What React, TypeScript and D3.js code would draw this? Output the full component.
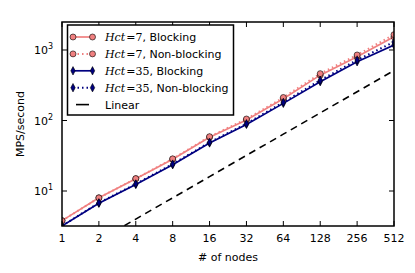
import * as d3 from "d3";
import { useEffect, useRef } from "react";

const nodes = [1, 2, 4, 8, 16, 32, 64, 128, 256, 512];
const hct7Blocking = [3.8, 8.0, 14.9, 28.2, 58, 102, 204, 440, 800, 1540];
const hct7NonBlocking = [3.8, 8.0, 15.0, 28.6, 59, 105, 212, 462, 850, 1650];
const hct35Blocking = [3.2, 6.7, 12.4, 23.6, 48, 88, 175, 355, 680, 1175];
const hct35NonBlocking = [3.2, 6.8, 12.6, 24.1, 49, 90, 181, 372, 722, 1300];
const linear = [1, 2, 4, 8, 16, 32, 64, 128, 256, 512];
const yTicks = [1, 2, 3];

const PINK = "#f08080";
const NAVY = "#000080";

const series = [
  { hct: "7", mode: "Blocking", values: hct7Blocking, color: PINK, dash: null, marker: "o" },
  { hct: "7", mode: "Non-blocking", values: hct7NonBlocking, color: PINK, dash: "1.5,3", marker: "o" },
  { hct: "35", mode: "Blocking", values: hct35Blocking, color: NAVY, dash: null, marker: "d" },
  { hct: "35", mode: "Non-blocking", values: hct35NonBlocking, color: NAVY, dash: "1.5,3", marker: "d" },
];

export default function App() {
  const ref = useRef<SVGSVGElement>(null);
  const width = 415;
  const height = 273;
  const m = { left: 62, right: 394, top: 22, bottom: 226 };

  useEffect(() => {
    const svg = d3.select(ref.current);
    svg.selectAll("*").remove();
    const font = "'DejaVu Sans', sans-serif";

    const x = d3.scaleLog().base(2).domain([1, 512]).range([m.left, m.right]);
    const y = d3.scaleLog().domain([3.19, 2495]).range([m.bottom, m.top]);

    svg.append("defs").append("clipPath").attr("id", "plot")
      .append("rect").attr("x", m.left).attr("y", m.top)
      .attr("width", m.right - m.left).attr("height", m.bottom - m.top);

    const g = svg.append("g").attr("clip-path", "url(#plot)");
    const line = d3.line<number>().x((_, i) => x(nodes[i])).y((d) => y(d));

    // linear reference
    g.append("path").datum(linear).attr("d", line).attr("fill", "none")
      .attr("stroke", "black").attr("stroke-width", 1.6).attr("stroke-dasharray", "7,5");

    const drawMarker = (sel: any, kind: string, color: string) => {
      if (kind === "o") {
        sel.append("circle").attr("r", 3).attr("fill", color)
          .attr("stroke", "black").attr("stroke-width", 0.6);
      } else {
        sel.append("path").attr("d", "M0,-4.2L2.2,0L0,4.2L-2.2,0Z").attr("fill", color)
          .attr("stroke", "black").attr("stroke-width", 0.6);
      }
    };

    series.forEach((s) => {
      g.append("path").datum(s.values).attr("d", line).attr("fill", "none")
        .attr("stroke", s.color).attr("stroke-width", s.dash ? 2 : 1.7)
        .attr("stroke-dasharray", s.dash);
    });
    series.forEach((s) => {
      s.values.forEach((v, i) => {
        const mk = g.append("g").attr("transform", `translate(${x(nodes[i])},${y(v)})`);
        drawMarker(mk, s.marker, s.color);
      });
    });

    // ticks inward
    const ax = svg.append("g").attr("stroke", "black").attr("stroke-width", 1);
    nodes.forEach((n) => {
      ax.append("line").attr("x1", x(n)).attr("x2", x(n)).attr("y1", m.bottom).attr("y2", m.bottom - 5);
      ax.append("line").attr("x1", x(n)).attr("x2", x(n)).attr("y1", m.top).attr("y2", m.top + 5);
      svg.append("text").attr("x", x(n)).attr("y", m.bottom + 16).attr("text-anchor", "middle")
        .attr("font-family", font).attr("font-size", 11).text(n);
    });
    yTicks.forEach((e) => {
      const yy = y(Math.pow(10, e));
      ax.append("line").attr("x1", m.left).attr("x2", m.left + 5).attr("y1", yy).attr("y2", yy);
      ax.append("line").attr("x1", m.right).attr("x2", m.right - 5).attr("y1", yy).attr("y2", yy);
      const t = svg.append("text").attr("x", 53).attr("y", yy + 4).attr("text-anchor", "end")
        .attr("font-family", font).attr("font-size", 11);
      t.append("tspan").text("10");
      t.append("tspan").attr("dy", -5).attr("font-size", 8).text(e);
    });

    svg.append("rect").attr("x", m.left).attr("y", m.top)
      .attr("width", m.right - m.left).attr("height", m.bottom - m.top)
      .attr("fill", "none").attr("stroke", "black").attr("stroke-width", 1.5);

    svg.append("text").attr("x", (m.left + m.right) / 2).attr("y", 261).attr("text-anchor", "middle")
      .attr("font-family", font).attr("font-size", 11).text("# of nodes");
    svg.append("text").attr("transform", `translate(24,${(m.top + m.bottom) / 2}) rotate(-90)`)
      .attr("text-anchor", "middle").attr("font-family", font).attr("font-size", 11).text("MPS/second");

    // legend
    const lg = svg.append("g");
    lg.append("rect").attr("x", 67.5).attr("y", 25).attr("width", 166).attr("height", 90)
      .attr("fill", "white").attr("stroke", "black").attr("stroke-width", 1.5);
    const rowY = (i: number) => 37 + i * 16.9;
    series.forEach((s, i) => {
      const yy = rowY(i);
      lg.append("line").attr("x1", 73).attr("x2", 92.5).attr("y1", yy).attr("y2", yy)
        .attr("stroke", s.color).attr("stroke-width", s.dash ? 2 : 1.7).attr("stroke-dasharray", s.dash);
      [73, 92.5].forEach((xx) => {
        drawMarker(lg.append("g").attr("transform", `translate(${xx},${yy})`), s.marker, s.color);
      });
      const t = lg.append("text").attr("x", 105).attr("y", yy + 4).attr("font-size", 11)
        .attr("font-family", font);
      t.append("tspan").attr("font-family", "'DejaVu Serif', serif").attr("font-style", "italic").text("Hct");
      t.append("tspan").attr("font-family", "'DejaVu Serif', serif").attr("dx", 1).text("=" + s.hct);
      t.append("tspan").text(", " + s.mode);
    });
    const ly = rowY(4);
    lg.append("line").attr("x1", 76).attr("x2", 89).attr("y1", ly).attr("y2", ly)
      .attr("stroke", "black").attr("stroke-width", 1.6);
    lg.append("text").attr("x", 105).attr("y", ly + 4).attr("font-size", 11)
      .attr("font-family", font).text("Linear");
  }, []);

  return (
    <svg ref={ref} width={width} height={height}
      style={{ position: "absolute", left: 0, top: 0, background: "white" }} />
  );
}
